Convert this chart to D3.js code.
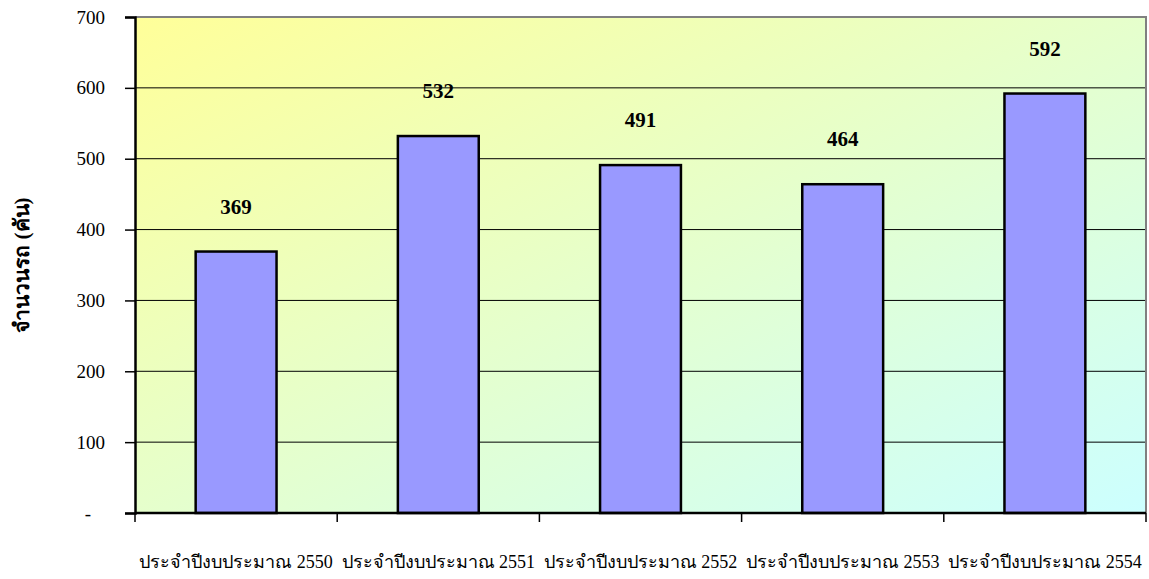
<!DOCTYPE html>
<html>
<head>
<meta charset="utf-8">
<script src="https://cdn.jsdelivr.net/npm/d3@7"></script>
<style>
  body { margin: 0; background: #fff; }
  text { font-family: "Times New Roman", "Liberation Serif", serif; }
</style>
</head>
<body>
<svg width="1149" height="579"></svg>
<script>
// chart data
var categories = ['ประจำปีงบประมาณ 2550', 'ประจำปีงบประมาณ 2551', 'ประจำปีงบประมาณ 2552',
  'ประจำปีงบประมาณ 2553', 'ประจำปีงบประมาณ 2554'];
var values = [369, 532, 491, 464, 592];
var yTicks = [0, 100, 200, 300, 400, 500, 600, 700];
var yTitle = 'จำนวนรถ (คัน)';

var svg = d3.select('svg'),
  pLeft = 135, pRight = 1146, pTop = 17, pBottom = 513;

var x = d3.scaleBand().domain(categories).range([pLeft, pRight]).paddingInner(0.6).paddingOuter(0.3);
var y = d3.scaleLinear().domain([0, 700]).range([pBottom, pTop]);

// background gradient
var grad = svg.append('defs').append('linearGradient')
  .attr('id', 'bg').attr('x1', '0%').attr('y1', '0%').attr('x2', '100%').attr('y2', '100%');
grad.append('stop').attr('offset', '0%').attr('stop-color', '#ffff99');
grad.append('stop').attr('offset', '100%').attr('stop-color', '#ccffff');

svg.append('rect')
  .attr('x', pLeft).attr('y', pTop)
  .attr('width', pRight - pLeft).attr('height', pBottom - pTop)
  .attr('fill', 'url(#bg)');

// gridlines
svg.append('g').selectAll('line').data(yTicks.filter(function (d) { return d > 0 && d < 700; }))
  .join('line')
  .attr('x1', pLeft).attr('x2', pRight)
  .attr('y1', function (d) { return y(d); }).attr('y2', function (d) { return y(d); })
  .attr('stroke', '#000').attr('stroke-width', 1);

// plot border (top + right, gray)
svg.append('path')
  .attr('d', 'M' + pLeft + ',' + pTop + 'H' + pRight + 'V' + pBottom)
  .attr('fill', 'none').attr('stroke', '#808080').attr('stroke-width', 2);

// bars
svg.append('g').selectAll('rect').data(values).join('rect')
  .attr('x', function (d, i) { return x(categories[i]); })
  .attr('y', function (d) { return y(d); })
  .attr('width', x.bandwidth())
  .attr('height', function (d) { return pBottom - y(d); })
  .attr('fill', '#9999ff').attr('stroke', '#000').attr('stroke-width', 2.5);

// value labels
svg.append('g').selectAll('text').data(values).join('text')
  .attr('x', function (d, i) { return x(categories[i]) + x.bandwidth() / 2; })
  .attr('y', function (d) { return y(d) - 38; })
  .attr('text-anchor', 'middle')
  .attr('font-size', 21).attr('font-weight', 'bold')
  .text(function (d) { return d; });

// y axis
var yAxis = d3.axisLeft(y).tickValues(yTicks).tickSize(10).tickPadding(20)
  .tickFormat(function (d) { return d === 0 ? '-' : d; });
var gy = svg.append('g').attr('transform', 'translate(' + pLeft + ',0)').call(yAxis);
gy.attr('font-size', null).attr('font-family', null);
gy.select('.domain').attr('stroke-width', 2.5);
gy.selectAll('text').style('font-size', '19px').attr('fill', '#000');
gy.selectAll('.tick').filter(function (d) { return d === 0; }).select('text').attr('x', -44);
gy.selectAll('line').attr('stroke-width', 1.5);

// x axis
var bounds = categories.map(function (c) { return x(c) - x.step() * x.paddingInner() / 2; });
bounds.push(pRight);
var gx = svg.append('g');
gx.append('line').attr('x1', pLeft).attr('x2', pRight).attr('y1', pBottom).attr('y2', pBottom)
  .attr('stroke', '#000').attr('stroke-width', 2.5);
gx.selectAll('line.tk').data(bounds).join('line').attr('class', 'tk')
  .attr('x1', function (d) { return d; }).attr('x2', function (d) { return d; })
  .attr('y1', pBottom).attr('y2', pBottom + 9)
  .attr('stroke', '#000').attr('stroke-width', 1.5);
gx.selectAll('text').data(categories).join('text')
  .attr('x', function (d) { return x(d) + x.bandwidth() / 2; })
  .attr('y', 568)
  .attr('text-anchor', 'middle')
  .attr('font-size', 18)
  .text(function (d) { return d; });

// y title
svg.append('text')
  .attr('transform', 'translate(29,' + ((pTop + pBottom) / 2) + ') rotate(-90)')
  .attr('text-anchor', 'middle')
  .attr('font-size', 21).attr('font-weight', 'bold')
  .text(yTitle);
</script>
</body>
</html>
